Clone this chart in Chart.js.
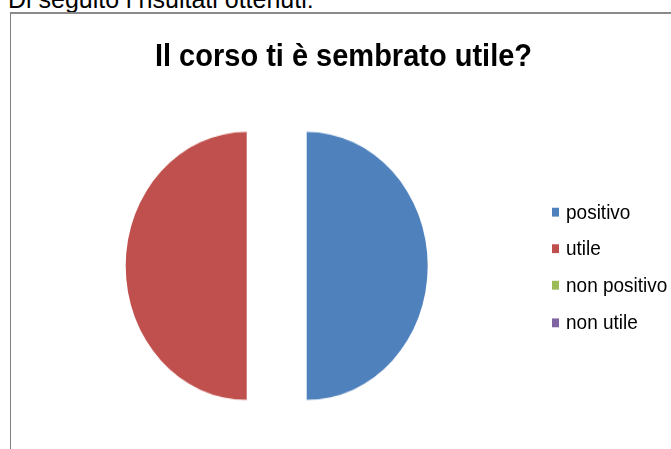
<!DOCTYPE html>
<html lang="it">
<head>
<meta charset="utf-8">
<title>Il corso ti è sembrato utile?</title>
<script src="https://cdn.jsdelivr.net/npm/chart.js@4.4.1/dist/chart.umd.min.js"></script>
<style>
  html, body { margin: 0; padding: 0; background: #fff; overflow: hidden; }
  body { width: 671px; height: 449px; position: relative; }
  #intro {
    position: absolute; left: 8px; top: -13px;
    font: 25px "Liberation Sans", Arial, sans-serif; line-height: 25px;
    color: #000; white-space: nowrap;
  }
  #frame {
    position: absolute; left: 10px; top: 12px; width: 700px; height: 500px;
    border-top: 2px solid #8a8a8a; border-left: 1px solid #7f7f7f;
  }
  /* the reference is stretched vertically, so the chart is too */
  #wrap {
    position: absolute; left: 11px; top: 14px; width: 660px; height: 393px;
    transform-origin: top left; transform: scaleY(1.107);
  }
  #title {
    position: absolute; left: 0; top: 22.5px; width: 665px; text-align: center;
    font: bold 29px "Liberation Sans", Arial, sans-serif; line-height: 29px;
    color: #000; white-space: nowrap;
  }
  #chartBox { position: absolute; left: 0; top: 0; width: 531.4px; height: 393px; }
  #legend {
    position: absolute; left: 541px; top: 162px;
    font: 19px "Liberation Sans", Arial, sans-serif; color: #000;
  }
  .item { display: flex; align-items: center; height: 33.4px; white-space: nowrap; }
  .swatch { width: 7px; height: 8px; margin-right: 7px; flex-shrink: 0; }
</style>
</head>
<body>
<div id="intro">Di seguito i risultati ottenuti:</div>
<div id="frame"></div>
<div id="wrap">
  <div id="title"></div>
  <div id="chartBox"><canvas id="pieChart"></canvas></div>
  <div id="legend"></div>
</div>

<script>
// ── Data ─────────────────────────────────────────────────────────
const TITLE      = "Il corso ti è sembrato utile?";
const CATEGORIES = ["positivo", "utile", "non positivo", "non utile"];
const VALUES     = [50, 50, 0, 0];
const COLORS     = ["#4F81BD", "#C0504D", "#9BBB59", "#8064A2"];

const EXPLODE = 30;   // px each slice is pulled out from the centre

// ── Exploded slices ──────────────────────────────────────────────
// Chart.js' own `offset` also narrows the slice angle, which bends the
// flat edge of a half pie, so shift the arc centres instead.
const explodePlugin = {
  id: "explode",
  afterDatasetsUpdate(chart) {
    chart.getDatasetMeta(0).data.forEach(arc => {
      const mid = (arc.startAngle + arc.endAngle) / 2;
      arc.x += Math.cos(mid) * EXPLODE;
      arc.y += Math.sin(mid) * EXPLODE;
    });
  },
};

// ── Chart ────────────────────────────────────────────────────────
document.getElementById("title").textContent = TITLE;

const ctx = document.getElementById("pieChart").getContext("2d");

new Chart(ctx, {
  type: "pie",
  data: {
    labels: CATEGORIES,
    datasets: [{
      data: VALUES,
      backgroundColor: COLORS,
      borderWidth: 0,
      hoverOffset: 0,
    }],
  },
  plugins: [explodePlugin],
  options: {
    responsive: true,
    maintainAspectRatio: false,
    animation: false,
    events: [],
    radius: 121,
    layout: { padding: { left: 0, right: 0, top: 62.2, bottom: 0 } },
    plugins: {
      legend: { display: false },
      tooltip: { enabled: false },
    },
  },
});

// ── Legend (HTML, same colours as the slices) ────────────────────
document.getElementById("legend").innerHTML = CATEGORIES.map((c, i) => `
  <div class="item"><span class="swatch" style="background:${COLORS[i]}"></span>${c}</div>`).join("");
</script>
</body>
</html>
